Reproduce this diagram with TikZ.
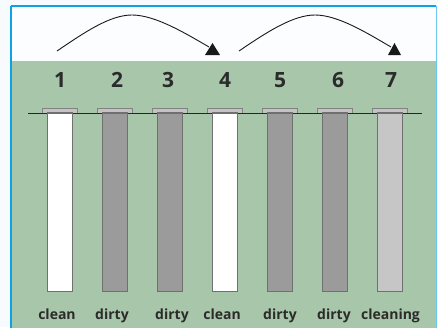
\documentclass[tikz,border=0pt]{standalone}
\usepackage{fontspec}
\setmainfont{Open Sans}
\definecolor{bgout}{RGB}{247,251,254}
\definecolor{bgin}{RGB}{252,253,255}
\definecolor{frameblue}{RGB}{12,162,230}
\definecolor{greenbg}{RGB}{168,198,169}
\definecolor{txt}{RGB}{43,43,43}
\definecolor{tubeedge}{RGB}{112,112,112}
\definecolor{dirtyfill}{RGB}{155,155,155}
\definecolor{cleaningfill}{RGB}{198,198,198}
\definecolor{capfill}{RGB}{195,195,195}
\definecolor{capedge}{RGB}{130,130,130}
\tikzset{
  tubebody/.style={draw=tubeedge, line width=1.2pt, minimum width=25pt, minimum height=178.7pt, inner sep=0pt, outer sep=0pt},
  tubecap/.style={draw=capedge, fill=capfill, line width=0.8pt, minimum width=35pt, minimum height=5.5pt, inner sep=0pt, outer sep=0pt},
  numlabel/.style={font=\bfseries\fontsize{21}{21}\selectfont, text=txt, inner sep=0pt, anchor=base},
  statelabel/.style={font=\bfseries\fontsize{14}{14}\selectfont, text=txt, inner sep=0pt, anchor=base},
  hoparc/.style={line width=0.9pt, draw=black!90},
  hoptip/.style={fill=black!90, draw=none}
}
\begin{document}
\begin{tikzpicture}[x=1pt, y=-1pt]
\useasboundingbox (0,0) rectangle (438,327);
\fill[bgout] (0,0) rectangle (438,327);
\fill[bgin] (11,6) rectangle (436,61);
\fill[greenbg] (11,61) rectangle (436,330);
\draw[frameblue, line width=2pt] (11,6) -- (436,6);
\draw[frameblue, line width=2pt] (11,6) -- (11,330);
\draw[frameblue!60, line width=1pt] (436.5,6) -- (436.5,330);
% caps
\foreach \i/\x in {1/60,2/115,3/170,4/225,5/280,6/335,7/390}{
  \node[tubecap] (c\i) at (\x,110.75) {};
}
% horizontal line
\coordinate (hl) at (28,113);
\coordinate (hr) at (422,113);
\draw[line width=1pt, draw=black!85] (hl) -- (hr);
% tube bodies
\node[tubebody, fill=white] (t1) at (60,202.35) {};
\node[tubebody, fill=dirtyfill] (t2) at (115,202.35) {};
\node[tubebody, fill=dirtyfill] (t3) at (170,202.35) {};
\node[tubebody, fill=white] (t4) at (225,202.35) {};
\node[tubebody, fill=dirtyfill] (t5) at (280,202.35) {};
\node[tubebody, fill=dirtyfill] (t6) at (335,202.35) {};
\node[tubebody, fill=cleaningfill] (t7) at (390,202.35) {};
% numbers
\foreach \i/\x in {1/60,2/117,3/168,4/225,5/280,6/338,7/391}{
  \node[numlabel] (n\i) at (\x,87) {\i};
}
% state labels
\node[statelabel] (l1) at (57,319) {clean};
\node[statelabel] (l2) at (112,319) {dirty};
\node[statelabel] (l3) at (172,319) {dirty};
\node[statelabel] (l4) at (222,319) {clean};
\node[statelabel] (l5) at (280,319) {dirty};
\node[statelabel] (l6) at (334,319) {dirty};
\node[statelabel] (l7) at (390.5,319) {cleaning};
% arcs
\coordinate (a1s) at (57,51);
\coordinate (a1p) at (132,15);
\coordinate (a1e) at (209,47);
\coordinate (a2s) at (239,51);
\coordinate (a2p) at (315,15);
\coordinate (a2e) at (391,47);
\draw[hoparc] (a1s) .. controls +(28,-19) and +(-22,0) .. (a1p) .. controls +(23,0) and +(-24,-14) .. (a1e);
\draw[hoparc] (a2s) .. controls +(28,-19) and +(-22,0) .. (a2p) .. controls +(23,0) and +(-24,-14) .. (a2e);
\fill[hoptip] (205,55) -- (220,55) -- (212.5,43) -- cycle;
\fill[hoptip] (388,55) -- (401,55) -- (394.5,43) -- cycle;
\end{tikzpicture}
\end{document}
